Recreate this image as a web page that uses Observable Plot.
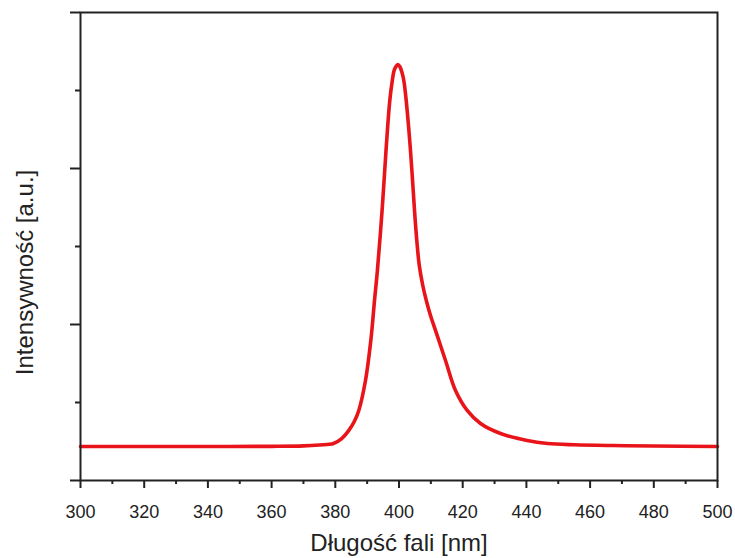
<!DOCTYPE html>
<html>
<head>
<meta charset="utf-8">
<script src="https://cdn.jsdelivr.net/npm/d3@7"></script>
<script src="https://cdn.jsdelivr.net/npm/@observablehq/plot@0.6"></script>
<style>
  html, body { margin: 0; padding: 0; background: #fff; }
  #chart svg { display: block; }
</style>
</head>
<body>
<div id="chart"></div>
<script>
const wavelength = [300, 320, 340, 360, 370, 375, 379.44, 382, 384.24, 386, 387.38, 389.48, 391.15, 392.31, 393.22, 394.69, 395.92, 397.11, 397.90, 398.46, 399.06, 399.62, 400.25, 400.94, 401.51, 402.26, 403.61, 404.87, 405.59, 406.37, 407.47, 408.57, 409.89, 411.46, 414.60, 417.74, 421.41, 425.59, 431.87, 440.25, 446.62, 455, 467.35, 480, 500];
const intensity  = [0.218, 0.218, 0.218, 0.219, 0.222, 0.228, 0.237, 0.268, 0.321, 0.38, 0.449, 0.641, 0.897, 1.154, 1.346, 1.731, 2.115, 2.436, 2.564, 2.628, 2.654, 2.667, 2.654, 2.615, 2.564, 2.436, 2.115, 1.731, 1.538, 1.378, 1.25, 1.154, 1.058, 0.962, 0.769, 0.577, 0.449, 0.365, 0.301, 0.256, 0.237, 0.229, 0.224, 0.221, 0.218];
const xMajorTicks = d3.range(300, 501, 20);
const xMinorTicks = d3.range(310, 500, 20);
const yMajorTicks = [0, 1, 2, 3];
const yMinorTicks = [0.5, 1.5, 2.5];
const xLabel = "Długość fali [nm]";
const yLabel = "Intensywność [a.u.]";

const data = wavelength.map((w, i) => ({w, v: intensity[i]}));
const font = "'Liberation Sans', Arial, sans-serif";

const chart = Plot.plot({
  width: 735,
  height: 558,
  marginLeft: 80,
  marginRight: 18,
  marginTop: 12,
  marginBottom: 78,
  style: {fontFamily: font, fontSize: "18px", background: "#fff", color: "#222"},
  x: {domain: [300, 500]},
  y: {domain: [0, 3]},
  marks: [
    Plot.line(data, {x: "w", y: "v", stroke: "#e8141a", strokeWidth: 3.6, curve: "catmull-rom"}),
    Plot.frame({stroke: "#222", strokeWidth: 2}),
    Plot.axisX({ticks: xMajorTicks, tickSize: 8, tickPadding: 17, tickFormat: d => d, fontSize: 18, label: null, stroke: "#222", strokeWidth: 2, fill: "#222"}),
    Plot.axisX({ticks: xMinorTicks, tickSize: 4, text: null, label: null, stroke: "#222", strokeWidth: 2}),
    Plot.axisY({ticks: yMajorTicks, tickSize: 10, text: null, label: null, stroke: "#222", strokeWidth: 2}),
    Plot.axisY({ticks: yMinorTicks, tickSize: 5, text: null, label: null, stroke: "#222", strokeWidth: 2}),
    Plot.text([xLabel], {frameAnchor: "bottom", dy: 63, fontSize: 24, fill: "#222", lineAnchor: "middle", textAnchor: "middle"}),
    Plot.text([yLabel], {frameAnchor: "left", dx: -55, dy: 26, rotate: -90, fontSize: 24, fill: "#222", lineAnchor: "middle", textAnchor: "middle"})
  ]
});
document.getElementById("chart").appendChild(chart);
</script>
</body>
</html>
